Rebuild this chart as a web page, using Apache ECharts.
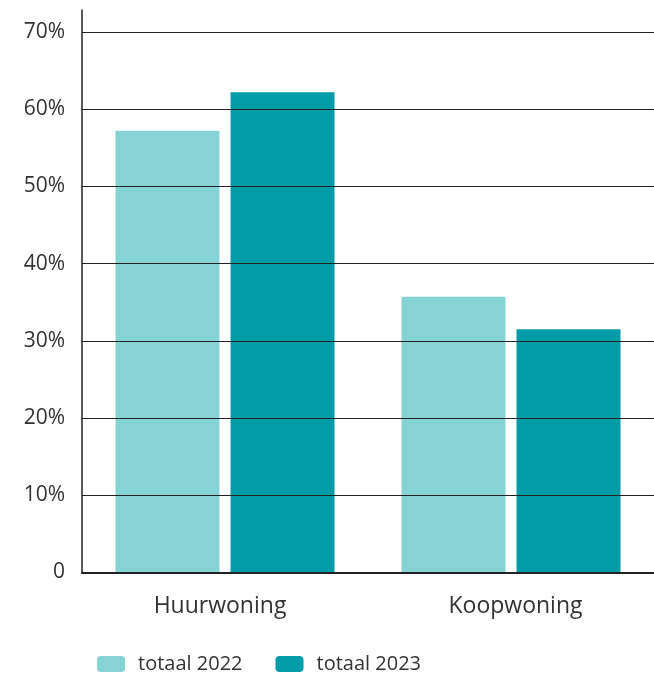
<!DOCTYPE html>
<html>
<head>
<meta charset="utf-8">
<script src="https://cdn.jsdelivr.net/npm/echarts@6/dist/echarts.min.js"></script>
<style>
  html, body { margin: 0; padding: 0; background: #fff; }
  #chart { width: 654px; height: 676px; }
</style>
</head>
<body>
<div id="chart"></div>
<script>
// Woonsituatie: aandeel per type woning
const categories = ['Huurwoning', 'Koopwoning'];
const seriesNames = ['totaal 2022', 'totaal 2023'];
const values2022 = [57.2, 35.7];
const values2023 = [62.2, 31.5];
const yTicks = [0, 10, 20, 30, 40, 50, 60, 70];

const colors = ['#86D3D6', '#019CA7'];
const font = 'Open Sans';

const chart = echarts.init(document.getElementById('chart'));
chart.setOption({
  animation: false,
  textStyle: { fontFamily: font },
  grid: { left: 82, width: 576, top: 10, bottom: 103.5, containLabel: false },
  legend: {
    left: 97,
    bottom: 2,
    padding: 0,
    icon: 'roundRect',
    itemWidth: 28,
    itemHeight: 16,
    itemGap: 33,
    data: seriesNames,
    textStyle: { fontFamily: font, fontSize: 20, color: '#333', padding: [0, 0, 0, 8] }
  },
  xAxis: {
    type: 'category',
    data: categories,
    axisLine: { lineStyle: { color: '#222', width: 2 } },
    axisTick: { show: false },
    axisLabel: {
      fontFamily: font,
      fontSize: 23,
      color: '#333',
      margin: 22,
      formatter: (v, i) => '{c' + i + '|' + v + '}',
      rich: {
        c0: { fontFamily: font, fontSize: 23, color: '#333', padding: [0, 10, 0, 0] },
        c1: { fontFamily: font, fontSize: 23, color: '#333', padding: [0, 0, 0, 9] }
      }
    }
  },
  yAxis: {
    type: 'value',
    min: 0,
    max: 72.85,
    interval: 10,
    z: 10,
    axisLine: { show: true, lineStyle: { color: '#222', width: 1.5 } },
    axisTick: { show: false },
    splitLine: { show: true, showMaxLine: false, lineStyle: { color: '#222', width: 1 } },
    axisLabel: {
      fontFamily: font,
      fontSize: 21,
      color: '#333',
      margin: 17,
      showMaxLabel: false,
      formatter: v => (yTicks.indexOf(v) < 0 ? '' : (v === 0 ? '0' : v + '%'))
    }
  },
  series: [
    { name: seriesNames[0], type: 'bar', data: values2022, barWidth: 104, barGap: '10.6%', itemStyle: { color: colors[0] } },
    { name: seriesNames[1], type: 'bar', data: values2023, barWidth: 104, barGap: '10.6%', itemStyle: { color: colors[1] } }
  ]
});
</script>
</body>
</html>
